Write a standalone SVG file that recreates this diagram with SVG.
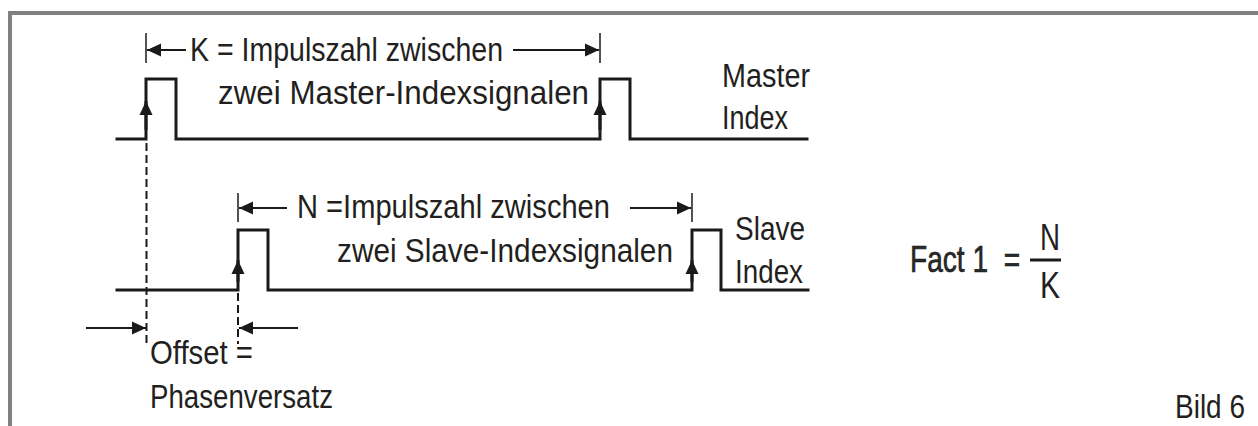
<svg xmlns="http://www.w3.org/2000/svg" width="1258" height="426" viewBox="0 0 1258 426">
<defs>
<marker id="ah" markerUnits="userSpaceOnUse" markerWidth="16" markerHeight="14" viewBox="-15 -7 16 14" refX="0" refY="0" orient="auto">
<path d="M0,0 L-14,-6.5 L-14,6.5 Z" fill="#1a1a1a"/>
</marker>
</defs>
<style>
.frame{fill:none;stroke:#808080;stroke-width:4}
.sig{fill:none;stroke:#1a1a1a;stroke-width:3;stroke-linejoin:miter;stroke-linecap:square}
.edge{fill:none;stroke:#1a1a1a;stroke-width:3;marker-end:url(#ah)}
.dim{fill:none;stroke:#1a1a1a;stroke-width:2;marker-end:url(#ah)}
.tick{fill:none;stroke:#1a1a1a;stroke-width:1.5}
.dash{fill:none;stroke:#1a1a1a;stroke-width:2;stroke-dasharray:8 4}
text{font-family:"Liberation Sans",Arial,sans-serif;font-size:33px;fill:#231f20}
.fact{font-size:37px;fill:#2a2a2a;stroke:#111;stroke-width:0.6}
.frac{font-size:37px}
</style>
<rect width="1258" height="426" fill="#ffffff"/>
<g id="frame">
<path class="frame" d="M10,426 L10,13 L1258,13"/>
</g>
<g id="master-signal">
<path class="sig" d="M117,139 L146,139 L146,79 L176,79 L176,139 L600,139 L600,79 L630,79 L630,139 L807,139"/>
<line class="edge" x1="146" y1="130" x2="146" y2="101"/>
<line class="edge" x1="600" y1="130" x2="600" y2="101"/>
<text x="722" y="87" textLength="88" lengthAdjust="spacingAndGlyphs">Master</text>
<text x="722" y="129" textLength="66" lengthAdjust="spacingAndGlyphs">Index</text>
</g>
<g id="slave-signal">
<path class="sig" d="M117,290 L238,290 L238,230 L268,230 L268,290 L692,290 L692,230 L721,230 L721,290 L808,290"/>
<line class="edge" x1="238" y1="282" x2="238" y2="260"/>
<line class="edge" x1="692" y1="282" x2="692" y2="260"/>
<text x="735" y="240" textLength="70" lengthAdjust="spacingAndGlyphs">Slave</text>
<text x="735" y="283" textLength="68" lengthAdjust="spacingAndGlyphs">Index</text>
</g>
<g id="connectors">
<line class="tick" x1="146" y1="33" x2="146" y2="63"/>
<line class="dim" x1="186" y1="50" x2="147" y2="50"/>
<line class="tick" x1="600" y1="33" x2="600" y2="63"/>
<line class="dim" x1="513" y1="50" x2="599" y2="50"/>
<line class="tick" x1="238" y1="193" x2="238" y2="222"/>
<line class="dim" x1="287" y1="208" x2="239" y2="208"/>
<line class="tick" x1="692" y1="193" x2="692" y2="222"/>
<line class="dim" x1="630" y1="208" x2="691" y2="208"/>
<line class="dash" x1="146.5" y1="143" x2="146.5" y2="344"/>
<line class="dash" x1="238" y1="293" x2="238" y2="344"/>
<line class="dim" x1="86" y1="328" x2="146" y2="328"/>
<line class="dim" x1="298" y1="328" x2="239" y2="328"/>
</g>
<g id="label-k">
<text x="190" y="61" textLength="313" lengthAdjust="spacingAndGlyphs">K = Impulszahl zwischen</text>
<text x="218" y="104" textLength="371" lengthAdjust="spacingAndGlyphs">zwei Master-Indexsignalen</text>
</g>
<g id="label-n">
<text x="297" y="218" textLength="313" lengthAdjust="spacingAndGlyphs">N =Impulszahl zwischen</text>
<text x="337" y="262" textLength="336" lengthAdjust="spacingAndGlyphs">zwei Slave-Indexsignalen</text>
</g>
<g id="label-offset">
<text x="150" y="364" textLength="103" lengthAdjust="spacingAndGlyphs">Offset =</text>
<text x="150" y="408" textLength="183" lengthAdjust="spacingAndGlyphs">Phasenversatz</text>
</g>
<g id="formula">
<text class="fact" transform="translate(910,272) scale(0.76,1)" x="0" y="0" xml:space="preserve">Fact 1  =</text>
<line x1="1030" y1="260" x2="1061" y2="260" stroke="#1a1a1a" stroke-width="3"/>
<text class="frac" x="1040" y="250" textLength="20" lengthAdjust="spacingAndGlyphs">N</text>
<text class="frac" x="1040" y="298" textLength="20" lengthAdjust="spacingAndGlyphs">K</text>
</g>
<g id="caption">
<text x="1175" y="418" textLength="70" lengthAdjust="spacingAndGlyphs">Bild 6</text>
</g>
</svg>
